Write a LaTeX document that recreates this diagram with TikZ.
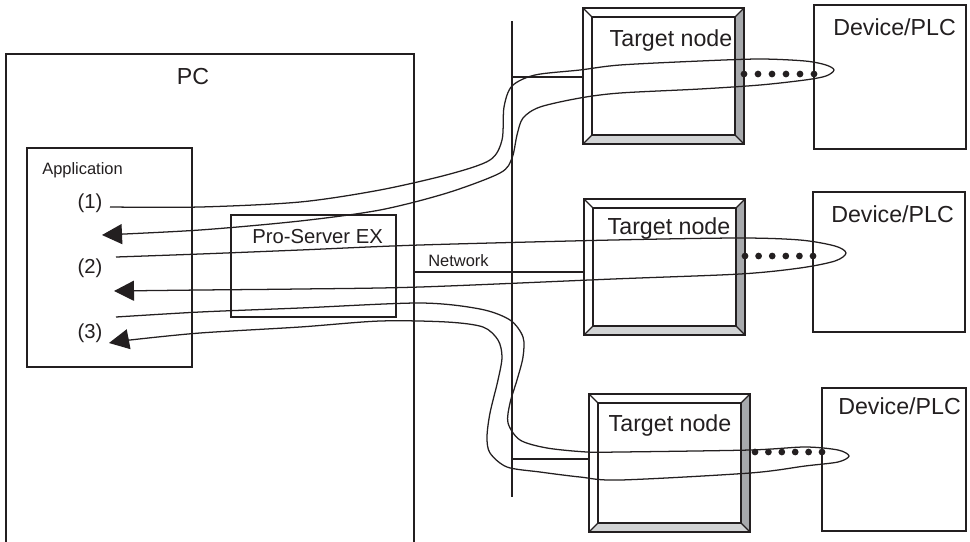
\documentclass[tikz,border=0pt]{standalone}
\usepackage{fontspec}
\setmainfont{Liberation Sans}
\usetikzlibrary{arrows.meta,calc}

\definecolor{ink}{HTML}{231F20}
\definecolor{bevelside}{HTML}{A7A9AC}
\definecolor{bevelbase}{HTML}{D1D3D4}

\newcommand\bigfont{\fontsize{16.5}{19}\selectfont}
\newcommand\midfont{\fontsize{14.4}{17}\selectfont}
\newcommand\smallfont{\fontsize{11.7}{14}\selectfont}

\tikzset{
  box/.style={draw=ink, line width=0.9pt, inner sep=0pt, outer sep=0pt, anchor=north west},
  wire/.style={draw=ink, line width=0.9pt},
  loopline/.style={draw=ink, line width=0.9pt, -{Triangle[length=5mm,width=5mm]}},
  bigtext/.style={font=\bigfont, text=ink, inner sep=0pt, anchor=base},
  midtext/.style={font=\midfont, text=ink, inner sep=0pt, anchor=base},
  smalltext/.style={font=\smallfont, text=ink, inner sep=0pt, anchor=base west}
}

\begin{document}
\begin{tikzpicture}[x=0.025cm, y=-0.025cm]
  \clip (0,0) rectangle (970,541);
  \fill[white] (0,0) rectangle (970,541);

  % PC side
  \node[box, minimum width=10.2cm, minimum height=13.65cm] (pc) at (6,54) {};
  \node[box, minimum width=4.125cm, minimum height=5.475cm] (app) at (27,148) {};
  \node[box, minimum width=4.125cm, minimum height=2.55cm] (srv) at (231,215) {};

  % target nodes and devices
  \node[box, minimum width=4.025cm, minimum height=3.4cm] (tn1) at (583,8) {};
  \node[box, minimum width=4.025cm, minimum height=3.4cm] (tn2) at (584,199) {};
  \node[box, minimum width=4.025cm, minimum height=3.45cm] (tn3) at (589,394) {};
  \node[box, minimum width=3.8cm, minimum height=3.6cm] (dev1) at (814,5) {};
  \node[box, minimum width=3.8cm, minimum height=3.5cm] (dev2) at (813,192) {};
  \node[box, minimum width=3.6cm, minimum height=3.575cm] (dev3) at (822,388) {};

  \foreach \t in {tn1,tn2,tn3}{
    \fill[bevelside] (\t.north east) -- (\t.south east)
      -- ([shift={(-9,-9)}]\t.south east) -- ([shift={(-9,9)}]\t.north east) -- cycle;
    \fill[bevelbase] (\t.south west) -- (\t.south east)
      -- ([shift={(-9,-9)}]\t.south east) -- ([shift={(9,-9)}]\t.south west) -- cycle;
    \draw[wire] (\t.north west) rectangle (\t.south east);
    \draw[wire] ([shift={(9,9)}]\t.north west) rectangle ([shift={(-9,-9)}]\t.south east);
    \draw[wire] (\t.north west) -- ([shift={(9,9)}]\t.north west)
                (\t.north east) -- ([shift={(-9,9)}]\t.north east)
                (\t.south west) -- ([shift={(9,-9)}]\t.south west)
                (\t.south east) -- ([shift={(-9,-9)}]\t.south east);
  }

  % labels
  \node[bigtext] (pclbl) at (193,84) {PC};
  \node[smalltext] (applbl) at (42,174) {Application};
  \node[midtext] (lbl1) at (90,208) {(1)};
  \node[midtext] (lbl2) at (90,273) {(2)};
  \node[midtext] (lbl3) at (90,338) {(3)};
  \node[midtext, anchor=base west] (srvlbl) at (252,243) {Pro-Server EX};
  \node[smalltext] (netlbl) at (428,266) {Network};
  \node[bigtext] (tnlbl1) at (671,46) {Target node};
  \node[bigtext] (tnlbl2) at (669,234) {Target node};
  \node[bigtext] (tnlbl3) at (670,431) {Target node};
  \node[bigtext, anchor=base west] (devlbl1) at (833,35) {Device/PLC};
  \node[bigtext, anchor=base west] (devlbl2) at (831,222) {Device/PLC};
  \node[bigtext, anchor=base west] (devlbl3) at (838,414) {Device/PLC};

  % network
  \coordinate (bustop) at (512,21);
  \coordinate (busbot) at (512,497);
  \coordinate (nb1) at (512,77);
  \coordinate (nb2) at (414,272);
  \coordinate (nb3) at (512,459);
  \draw[wire] (bustop) -- (busbot);
  \draw[wire] (nb1) -- (nb1 -| tn1.west);
  \draw[wire] (nb2) -- (nb2 -| tn2.west);
  \draw[wire] (nb3) -- (nb3 -| tn3.west);

  % serial links
  \coordinate (s1) at (744,74);
  \coordinate (s2) at (745,256);
  \coordinate (s3) at (755,452);
  \foreach \s/\d in {s1/dev1,s2/dev2,s3/dev3}
    \foreach \i in {0,...,5}
      \fill[ink] ($(\s)!\i/5!(\s -| \d.west)$) circle[radius=2.4pt];

  % communication loops
  \coordinate (out1) at (110,207);
  \coordinate (tip1) at (834,70);
  \coordinate (in1) at (102,235);
  \coordinate (out2) at (116,257);
  \coordinate (tip2) at (846,253);
  \coordinate (in2) at (114,291);
  \coordinate (out3) at (116,317);
  \coordinate (tip3) at (849,456);
  \coordinate (in3) at (109,343);

  \draw[loopline] plot[smooth, tension=0.5] coordinates {
    (out1) (200,207) (300,202) (380,190) (450,174) (490,160) (502,140)
    (504,107) (512,86) (535,75) (580,70) (620,65) (700,61) (760,59)
    (805,61) (826,65) (tip1) (826,76) (805,80) (760,85) (700,89) (620,93)
    (580,98) (540,107) (523,118) (517,135) (512,158) (500,173) (447,193)
    (380,210) (300,221) (200,230) (in1)};
  \draw[loopline] plot[smooth, tension=0.5] coordinates {
    (out2) (200,254) (300,250) (420,245) (613,240) (740,238) (800,240)
    (835,246) (tip2) (835,261) (800,268) (740,274) (613,279) (420,287)
    (300,289) (200,290) (in2)};
  \draw[loopline] plot[smooth, tension=0.5] coordinates {
    (out3) (200,312) (300,308) (420,303) (480,309) (510,320) (523,337)
    (523,357) (517,380) (510,403) (508,423) (520,440) (547,448) (587,452)
    (620,452) (750,450) (805,447) (838,450) (tip3) (838,462) (805,466)
    (750,473) (620,480) (580,477) (540,472) (507,467) (490,453) (487,437)
    (490,413) (498,380) (502,357) (498,340) (483,327) (447,322) (380,321)
    (300,327) (200,333) (130,340) (in3)};
\end{tikzpicture}
\end{document}
